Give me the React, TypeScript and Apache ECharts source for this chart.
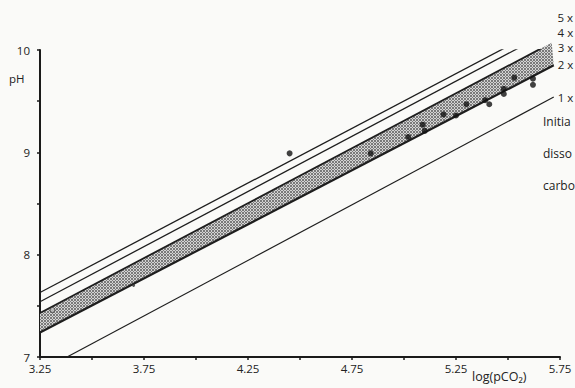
import React, { useEffect, useRef } from "react";
import * as echarts from "echarts";

// Axis settings
const X_MIN = 3.25;
const X_MAX = 5.75;
const X_STEP = 0.25;
const Y_MIN = 7;
const Y_MAX = 10;
const Y_STEP = 0.5;
const X_TICK_LABELS = [3.25, 3.75, 4.25, 4.75, 5.25, 5.75];
const Y_TICK_LABELS = [7, 8, 9, 10];

// Lines of initial dissolved carbonate multiples [log(pCO2), pH]
const line5x = [[3.25, 7.63], [5.69, 10.24]];
const line4x = [[3.25, 7.54], [5.7, 10.18]];
const line3x = [[3.25, 7.43], [5.71, 10.07]];
const line2x = [[3.25, 7.24], [5.72, 9.85]];
const line1x = [[3.38, 7.0], [5.72, 9.54]];
const lineLabels = ["5 x", "4 x", "3 x", "2 x", "1 x"];
// Visible fragments of the side note (cut by the figure edge)
const noteLines = ["Initia", "disso", "carbo"];

// Measured points [log(pCO2), pH]
const points = [
  [4.45, 8.99],
  [4.84, 8.99],
  [5.02, 9.15],
  [5.09, 9.27],
  [5.1, 9.21],
  [5.19, 9.37],
  [5.25, 9.36],
  [5.3, 9.47],
  [5.39, 9.51],
  [5.41, 9.47],
  [5.48, 9.62],
  [5.48, 9.57],
  [5.53, 9.73],
  [5.62, 9.72],
  [5.62, 9.66],
];
const openPoints = [[3.31, 7.46]];
const smallPoints = [[3.7, 7.7]];

const FONT = "'Open Sans', Lato, sans-serif";

function makePattern(): any {
  const c = document.createElement("canvas");
  c.width = 3;
  c.height = 3;
  const ctx = c.getContext("2d");
  if (!ctx) return "#aaaaaa";
  ctx.fillStyle = "#d4d4d4";
  ctx.fillRect(0, 0, 3, 3);
  ctx.fillStyle = "#7a7a7a";
  ctx.fillRect(0, 0, 1, 1);
  ctx.fillRect(2, 0, 1, 1);
  ctx.fillRect(1, 1, 1, 1);
  ctx.fillRect(0, 2, 1, 1);
  ctx.fillRect(2, 2, 1, 1);
  return { image: c, repeat: "repeat" };
}

export default function App() {
  const ref = useRef<HTMLDivElement>(null);
  useEffect(() => {
    if (!ref.current) return;
    const chart = echarts.init(ref.current, undefined, { renderer: "svg" });
    const lineColor = "#1e1e1e";
    const mkLine = (data: number[][], label: string, width: number, offset: number[]) => ({
      type: "line",
      data,
      symbol: "none",
      lineStyle: { color: lineColor, width },
      endLabel: {
        show: true,
        formatter: label,
        color: "#222",
        fontFamily: FONT,
        fontSize: 11.5,
        distance: 0,
        offset,
      },
      z: 3,
    });
    const bandPattern = makePattern();
    const txt = (text: string, left: number, top: number, size = 12) => ({
      type: "text",
      left,
      top,
      style: { text, fontFamily: FONT, fontSize: size, fill: "#222" },
    });
    chart.setOption({
      animation: false,
      backgroundColor: "#fafaf8",
      grid: { left: 40, right: 15, top: 50, bottom: 31, containLabel: false },
      xAxis: {
        type: "value",
        min: X_MIN,
        max: X_MAX,
        interval: X_STEP,
        axisLine: { show: true, lineStyle: { color: "#1a1a1a", width: 2 } },
        axisTick: { show: true, inside: false, length: 3, lineStyle: { color: "#1a1a1a", width: 1.5 } },
        splitLine: { show: false },
        axisLabel: {
          color: "#222",
          fontFamily: FONT,
          fontSize: 11.5,
          margin: 5,
          formatter: (v: number) =>
            X_TICK_LABELS.some((t) => Math.abs(t - v) < 1e-6) ? v.toFixed(2) : "",
        },
      },
      yAxis: {
        type: "value",
        min: Y_MIN,
        max: Y_MAX,
        interval: Y_STEP,
        axisLine: { show: true, lineStyle: { color: "#1a1a1a", width: 2 } },
        axisTick: { show: true, inside: false, length: 3, lineStyle: { color: "#1a1a1a", width: 1.5 } },
        splitLine: { show: false },
        axisLabel: {
          color: "#222",
          fontFamily: FONT,
          fontSize: 11.5,
          margin: 10,
          formatter: (v: number) =>
            Y_TICK_LABELS.some((t) => Math.abs(t - v) < 1e-6) ? String(v) : "",
        },
      },
      graphic: [
        txt("pH", 9, 72, 11.5),
        txt("log(pCO₂)", 472, 370, 12.5),
        txt(noteLines[0], 543, 115, 12),
        txt(noteLines[1], 543, 147, 12),
        txt(noteLines[2], 543, 179, 12),
      ],
      series: [
        {
          type: "custom",
          coordinateSystem: "cartesian2d",
          data: [0],
          renderItem: (_params: any, api: any) => {
            const pts = [
              ...line3x.map((p) => api.coord(p)),
              ...line2x.slice().reverse().map((p) => api.coord(p)),
            ];
            return {
              type: "polygon",
              shape: { points: pts },
              style: { fill: bandPattern, stroke: "none" },
            };
          },
          z: 1,
          silent: true,
        },
        mkLine(line5x, lineLabels[0], 1.3, [10, -8]),
        mkLine(line4x, lineLabels[1], 1.3, [8, 1]),
        mkLine(line3x, lineLabels[2], 1.8, [6, 5]),
        mkLine(line2x, lineLabels[3], 2.2, [4, -1]),
        mkLine(line1x, lineLabels[4], 1.2, [4, 0]),
        {
          type: "scatter",
          data: points,
          symbol: "circle",
          symbolSize: 6,
          itemStyle: { color: "#111" },
          z: 5,
        },
        {
          type: "scatter",
          data: openPoints,
          symbol: "circle",
          symbolSize: 5,
          itemStyle: { color: "#bbb", borderColor: "#333", borderWidth: 1 },
          z: 5,
        },
        {
          type: "scatter",
          data: smallPoints,
          symbol: "circle",
          symbolSize: 3,
          itemStyle: { color: "#333" },
          z: 5,
        },
      ],
    });
    return () => chart.dispose();
  }, []);
  return (
    <div
      ref={ref}
      style={{ position: "fixed", left: 0, top: 0, width: 575, height: 388 }}
    />
  );
}
